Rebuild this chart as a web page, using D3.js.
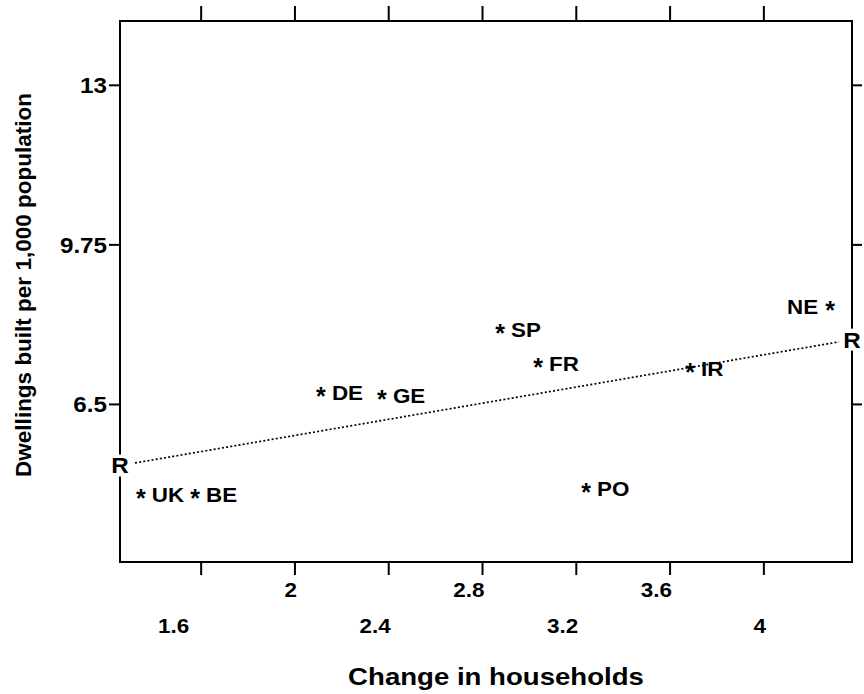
<!DOCTYPE html>
<html lang="en">
<head>
<meta charset="UTF-8">
<title>Dwellings built vs change in households</title>
<script src="https://cdn.jsdelivr.net/npm/d3@7"></script>
<style>
  body { margin: 0; background: #fff; }
  text { font-family: "Liberation Sans", Arial, sans-serif; font-weight: bold; fill: #000; }
  .tick line { stroke: #000; stroke-width: 2px; }
  .frame { fill: none; stroke: #000; stroke-width: 2px; }
  .fit { fill: none; stroke: #000; stroke-width: 1.7px; stroke-dasharray: 2,2.2; }
</style>
</head>
<body>
<script>
// data
var countries  = ["UK", "BE", "DE", "GE", "SP", "FR", "IR", "NE", "PO"];
var households = [1.345, 1.576, 2.113, 2.373, 2.877, 3.039, 3.687, 4.285, 3.244];
var dwellings  = [4.69, 4.69, 6.76, 6.70, 8.04, 7.36, 7.25, 8.52, 4.81];
var xTicks = [1.6, 2, 2.4, 2.8, 3.2, 3.6, 4];
var yTicks = [6.5, 9.75, 13];
// regression line (R ... R)
var fitIntercept = 4.213, fitSlope = 0.8216;

var margin = {top: 21, right: 12, bottom: 132, left: 120},
    width = 864 - margin.left - margin.right,
    height = 694 - margin.top - margin.bottom;
var sx = 1.1; // the original lettering is a bit wide

var x = d3.scaleLinear().domain([1.256, 4.378]).range([0, width]);
var y = d3.scaleLinear().domain([3.28, 14.30]).range([height, 0]);

var svg = d3.select("body")
    .append("svg")
    .attr("width", 864)
    .attr("height", 694);

var g = svg.append("g")
    .attr("transform", "translate(" + margin.left + "," + margin.top + ")");

// bottom axis, labels on two staggered rows, set flush right of the tick
var xb = g.append("g")
    .attr("transform", "translate(0," + height + ")")
    .call(d3.axisBottom(x).tickValues(xTicks).tickSize(13).tickSizeOuter(0)
        .tickFormat(function(d) { return d3.format("")(d); }));
xb.select(".domain").remove();
xb.selectAll("text")
    .attr("dy", null)
    .attr("text-anchor", "end")
    .attr("x", function(d, i) { return i === 0 ? -12 : 2; })
    .attr("y", function(d, i) { return i % 2 ? 35 : 71; })
    .attr("transform", function(d, i) { return "translate(" + (i === 0 ? -12 : 2) + ",0) scale(1.07,1)"; })
    .attr("x", 0)
    .style("font-size", "21px");

// top axis
var xt = g.append("g").call(d3.axisTop(x).tickValues(xTicks).tickSize(15).tickFormat(""));
xt.select(".domain").remove();

// left axis
var yl = g.append("g").call(d3.axisLeft(y).tickValues(yTicks).tickSize(11).tickFormat(function(d) { return d; }));
yl.select(".domain").remove();
yl.selectAll("text").attr("x", -13 / sx).attr("dy", "0.36em")
    .attr("transform", "scale(" + sx + ",1)")
    .style("font-size", "22px");

// right axis
var yr = g.append("g")
    .attr("transform", "translate(" + width + ",0)")
    .call(d3.axisRight(y).tickValues(yTicks).tickSize(10).tickFormat(""));
yr.select(".domain").remove();

// frame
g.append("rect").attr("class", "frame").attr("width", width).attr("height", height);

// fitted line with R marks at both ends
var x0 = x.domain()[0], x1 = x.domain()[1];
var gapL = x.invert(15), gapR = x.invert(width - 13);
g.append("line").attr("class", "fit")
    .attr("x1", x(gapL)).attr("y1", y(fitIntercept + fitSlope * gapL))
    .attr("x2", x(gapR)).attr("y2", y(fitIntercept + fitSlope * gapR));

[x0, x1].forEach(function(v) {
    var cx = x(v), cy = y(fitIntercept + fitSlope * v);
    g.append("rect").attr("x", cx - 8).attr("y", cy - 11).attr("width", 16).attr("height", 22).attr("fill", "#fff");
    g.append("text").attr("transform", "translate(" + cx + "," + cy + ") scale(" + sx + ",1)")
        .attr("dy", "0.36em").attr("text-anchor", "middle").style("font-size", "22px").text("R");
});

// points
var pts = g.selectAll(".pt").data(countries).enter().append("g").attr("class", "pt")
    .attr("transform", function(d, i) { return "translate(" + x(households[i]) + "," + y(dwellings[i]) + ")"; });
pts.append("text").attr("text-anchor", "middle").attr("dy", "0.56em")
    .style("font-size", "25px").text("*");
pts.append("text")
    .attr("transform", function(d) { return "translate(" + (d === "NE" ? -12 : 11) + ",9) scale(1.12,1)"; })
    .attr("text-anchor", function(d) { return d === "NE" ? "end" : "start"; })
    .style("font-size", "20px")
    .text(function(d) { return d; });

// axis titles
svg.append("text").attr("transform", "translate(496,685) scale(1.2,1)").attr("text-anchor", "middle")
    .style("font-size", "23px").text("Change in households");
svg.append("text").attr("transform", "translate(31,285) rotate(-90)").attr("text-anchor", "middle")
    .style("font-size", "22.5px").text("Dwellings built per 1,000 population");
</script>
</body>
</html>
